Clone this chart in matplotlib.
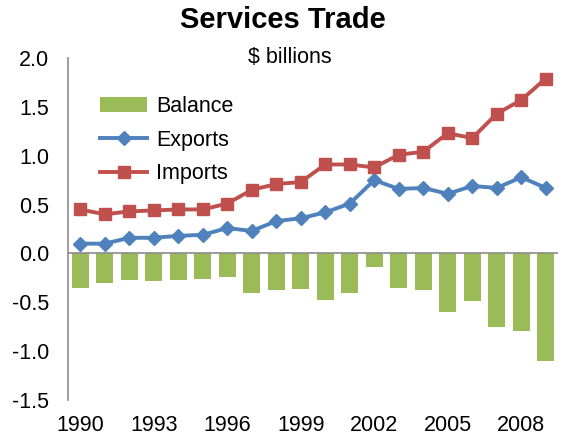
import matplotlib
matplotlib.use("Agg")
import matplotlib.pyplot as plt
import numpy as np

plt.rcParams['font.family'] = ['Liberation Sans', 'DejaVu Sans']

# Services trade, $ billions
years = list(range(1990, 2010))
exports = [0.10, 0.10, 0.16, 0.16, 0.18, 0.19, 0.26, 0.23, 0.33, 0.36,
           0.42, 0.51, 0.75, 0.66, 0.67, 0.61, 0.69, 0.67, 0.78, 0.67]
imports = [0.45, 0.40, 0.43, 0.44, 0.45, 0.45, 0.51, 0.65, 0.71, 0.73,
           0.91, 0.91, 0.88, 1.01, 1.04, 1.23, 1.18, 1.43, 1.57, 1.79]
balance = [-0.35, -0.30, -0.27, -0.28, -0.27, -0.265, -0.24, -0.41, -0.37, -0.36,
           -0.48, -0.41, -0.14, -0.35, -0.37, -0.60, -0.49, -0.75, -0.79, -1.10]
yticks = [-1.5, -1.0, -0.5, 0.0, 0.5, 1.0, 1.5, 2.0]

green = '#9BBB59'
blue = '#4F81BD'
red = '#C0504D'

fig = plt.figure(figsize=(5.66, 4.36), dpi=100)
ax = fig.add_axes([0.1201, 0.0826, 0.8658, 0.7844])

x = np.arange(len(years))
bars = ax.bar(x, balance, width=0.7, color=green, label='Balance', zorder=2)
ax.axhline(0, color='#8C8C8C', linewidth=1.2, zorder=3)
l1, = ax.plot(x, exports, color=blue, linewidth=2.8, marker='D', markersize=7.5,
              label='Exports', zorder=4)
l2, = ax.plot(x, imports, color=red, linewidth=2.8, marker='s', markersize=8.5,
              label='Imports', zorder=5)

ax.set_xlim(-0.5, len(years) - 0.5)
ax.set_ylim(-1.5, 2.0)
ax.set_yticks(yticks)
ax.set_yticklabels([f'{v:.1f}' for v in yticks])
ax.set_xticks(x[::3])
ax.set_xticklabels([str(y) for y in years[::3]])
ax.tick_params(axis='both', length=0, labelsize=15.5)
ax.tick_params(axis='y', pad=13.5)
ax.tick_params(axis='x', pad=10.5)

for s in ['top', 'right', 'bottom']:
    ax.spines[s].set_visible(False)
ax.spines['left'].set_color('#8C8C8C')
ax.spines['left'].set_linewidth(1.2)

fig.text(0.5, 0.954, 'Services Trade', ha='center', va='center',
         fontsize=21, fontweight='bold')
ax.text(0.453, 1.0, '$ billions', transform=ax.transAxes, ha='center',
        va='center', fontsize=15.5)

ax.legend([bars, l1, l2], ['Balance', 'Exports', 'Imports'],
          loc='upper left', bbox_to_anchor=(0.065, 0.89), frameon=False,
          fontsize=15.5, handlelength=2.2, labelspacing=0.6,
          handletextpad=0.4, borderaxespad=0, borderpad=0)

fig.savefig('out.png', dpi=100)
